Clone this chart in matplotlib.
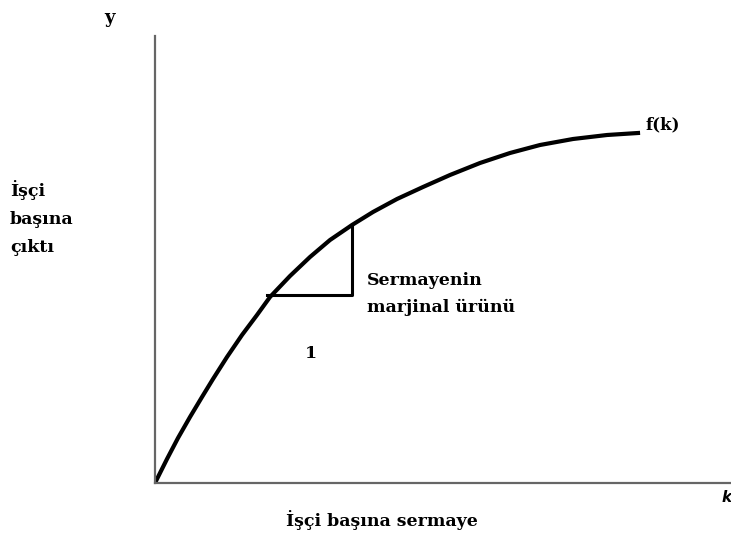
import matplotlib.pyplot as plt

# points read along the f(k) curve
k_vals = [0, 0.12, 0.23, 0.35, 0.47, 0.58, 0.72, 0.87, 1.02, 1.15, 1.35, 1.55, 1.75,
          1.97, 2.18, 2.42, 2.68, 2.95, 3.25, 3.55, 3.85, 4.18, 4.52, 4.83]
y_vals = [0, 0.24, 0.45, 0.66, 0.86, 1.04, 1.26, 1.48, 1.68, 1.86, 2.07, 2.26, 2.43,
          2.58, 2.71, 2.84, 2.96, 3.08, 3.20, 3.30, 3.38, 3.44, 3.48, 3.50]

# marginal product triangle
tri_k = [1.12, 1.97, 1.97]
tri_y = [1.88, 1.88, 2.58]

plt.rcParams['font.family'] = ['DejaVu Serif']
plt.rcParams['font.weight'] = 'bold'

fig = plt.figure(figsize=(7.31, 5.47), dpi=100)
ax = fig.add_axes([155 / 731, 64 / 547, 576 / 731, 447 / 547])
ax.set_xlim(0, 5.76)
ax.set_ylim(0, 4.47)

ax.plot(k_vals, y_vals, color='black', linewidth=3.0, solid_joinstyle='round')
ax.plot(tri_k, tri_y, color='black', linewidth=2.2)

for s in ['top', 'right']:
    ax.spines[s].set_visible(False)
for s in ['left', 'bottom']:
    ax.spines[s].set_color('#666666')
    ax.spines[s].set_linewidth(1.6)
ax.set_xticks([])
ax.set_yticks([])

ax.text(4.9, 3.50, 'f(k)', fontsize=12, fontweight='bold', va='bottom', ha='left')
ax.text(2.12, 1.89, 'Sermayenin\nmarjinal ürünü', fontsize=12.5, fontweight='bold',
        va='center', ha='left', linespacing=1.75)
ax.text(1.56, 1.29, '1', fontsize=12.5, fontweight='bold', ha='center', va='center')

fig.text(110 / 731, 1 - 18 / 547, 'y', fontsize=13, fontweight='bold', ha='center', va='center')
fig.text(10 / 731, 1 - 218 / 547, 'İşçi\nbaşına\nçıktı', fontsize=12.5, fontweight='bold',
         ha='left', va='center', linespacing=1.85)
fig.text(382 / 731, 1 - 520 / 547, 'İşçi başına sermaye', fontsize=12.5, fontweight='bold',
         ha='center', va='center')
fig.text(727 / 731, 1 - 497 / 547, 'k', fontsize=11, fontweight='bold', style='italic',
         ha='center', va='center', family='DejaVu Sans')

fig.savefig('out.png', dpi=100)
